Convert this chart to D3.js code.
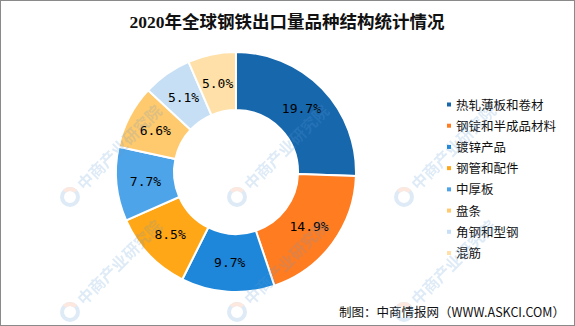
<!DOCTYPE html>
<html>
<head>
<meta charset="utf-8">
<script src="https://cdn.jsdelivr.net/npm/d3@7"></script>
<style>
  html, body { margin: 0; padding: 0; background: #fff; }
  svg { display: block; }
</style>
</head>
<body>
<svg id="chart" width="575" height="326"></svg>
<script>
// 2020 global steel export structure by product type (%)
const categories = ["热轧薄板和卷材", "钢锭和半成品材料", "镀锌产品", "钢管和配件", "中厚板", "盘条", "角钢和型钢", "混筋"];
const shares = [19.7, 14.9, 9.7, 8.5, 7.7, 6.6, 5.1, 5.0];
const palette = ["#1767ad", "#ff7c21", "#1e87d9", "#ffa716", "#4ea4e8", "#ffc96d", "#c6dff5", "#ffe0a9"];
const titleText = "2020年全球钢铁出口量品种结构统计情况";
const sourceText = "制图：中商情报网（WWW.ASKCI.COM）";
const brandText = "中商产业研究院";

const W = 575, H = 326;
const svg = d3.select("#chart");

// frame
svg.append("rect").attr("x", 0.5).attr("y", 0.5).attr("width", W - 1).attr("height", H - 1)
  .attr("fill", "#fff").attr("stroke", "#8a8a8a").attr("stroke-width", 1);

// title
svg.append("text")
  .attr("x", 287).attr("y", 28)
  .attr("text-anchor", "middle")
  .attr("font-family", "'Liberation Serif', 'Noto Sans CJK SC', serif")
  .attr("font-weight", 700)
  .attr("font-size", 17.5)
  .attr("fill", "#111")
  .text(titleText);

// donut
const cx = 236, cy = 172, rOuter = 120, rInner = 62;
const pie = d3.pie().sort(null).value(d => d);
const arcs = pie(shares);
const arc = d3.arc().innerRadius(rInner).outerRadius(rOuter);
const color = d3.scaleOrdinal().domain(categories).range(palette);

const g = svg.append("g").attr("transform", `translate(${cx},${cy})`);
g.selectAll("path.slice")
  .data(arcs)
  .join("path")
  .attr("class", "slice")
  .attr("d", arc)
  .attr("fill", (d, i) => color(categories[i]))
  .attr("stroke", "#fff")
  .attr("stroke-width", 2);

g.selectAll("text.val")
  .data(arcs)
  .join("text")
  .attr("class", "val")
  .attr("transform", d => `translate(${arc.centroid(d)})`)
  .attr("text-anchor", "middle")
  .attr("dy", "0.36em")
  .attr("font-family", "'DejaVu Sans Mono', 'Liberation Mono', monospace")
  .attr("font-size", 13)
  .attr("fill", "#000")
  .text(d => d.value.toFixed(1) + "%");

// legend
const legendY = d3.scalePoint().domain(categories).range([105, 253.5]);
const lg = svg.append("g");
const rows = lg.selectAll("g").data(categories).join("g")
  .attr("transform", d => `translate(447,${legendY(d)})`);
rows.append("rect").attr("x", 0).attr("y", -2.5).attr("width", 4).attr("height", 4)
  .attr("fill", d => color(d));
rows.append("text").attr("x", 9).attr("y", 0).attr("dy", "0.36em")
  .attr("font-family", "'Noto Sans CJK SC', sans-serif")
  .attr("font-size", 12.5).attr("fill", "#111")
  .text(d => d);

// source note
svg.append("text")
  .attr("x", 565).attr("y", 317)
  .attr("text-anchor", "end")
  .attr("font-family", "'Noto Sans CJK SC', sans-serif")
  .attr("font-size", 12.5).attr("fill", "#111")
  .text(sourceText);

// faint diagonal brand marks laid over the chart
const wm = svg.append("g").attr("opacity", 0.2).attr("pointer-events", "none");
const wmSpots = [[70, 197], [237, 197], [404, 197], [70, 312], [237, 312], [404, 312]];
wmSpots.forEach(([x, y]) => {
  const m = wm.append("g").attr("transform", `translate(${x},${y}) rotate(-45)`);
  m.append("circle").attr("cx", 0).attr("cy", 0).attr("r", 8)
    .attr("fill", "none").attr("stroke", "#5b9bd5").attr("stroke-width", 4);
  m.append("path").attr("d", "M0,-10 A10,10 0 0,1 10,0 L6,0 A6,6 0 0,0 0,-6 Z").attr("fill", "#f08a5d");
  m.append("text").attr("x", 14).attr("y", 6).attr("font-family", "Noto Sans CJK SC")
    .attr("font-size", 16).attr("font-weight", 700).attr("fill", "#5b9bd5")
    .text(brandText);
});
</script>
</body>
</html>
